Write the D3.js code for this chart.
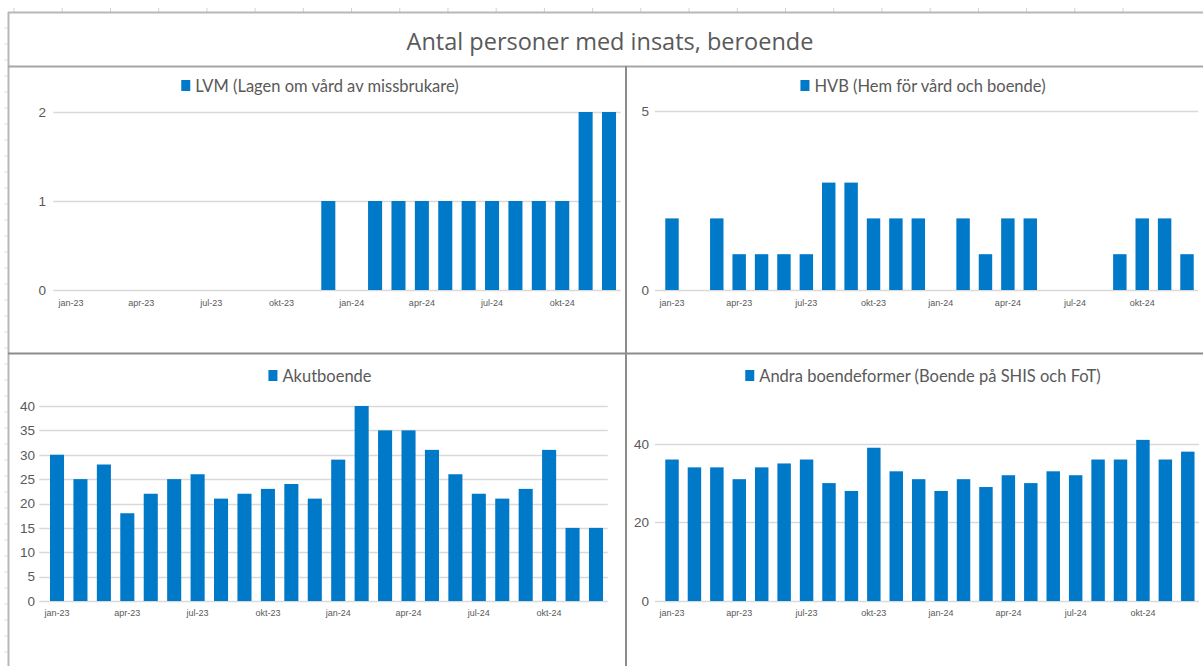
<!DOCTYPE html>
<html>
<head>
<meta charset="utf-8">
<script src="https://cdn.jsdelivr.net/npm/d3@7"></script>
<style>
  html, body { margin: 0; padding: 0; background: #ffffff; }
  svg { display: block; }
</style>
</head>
<body>
<svg id="chart" width="1203" height="666"></svg>
<script>
// Months shown along every x axis
const months = ["jan-23","feb-23","mar-23","apr-23","maj-23","jun-23","jul-23","aug-23","sep-23","okt-23","nov-23","dec-23",
                "jan-24","feb-24","mar-24","apr-24","maj-24","jun-24","jul-24","aug-24","sep-24","okt-24","nov-24","dec-24"];
const shownMonthLabels = ["jan-23","apr-23","jul-23","okt-23","jan-24","apr-24","jul-24","okt-24"];

// Number of persons per month and type of intervention
const lvmValues   = [0,0,0,0,0,0,0,0,0,0,0,1, 0,1,1,1,1,1,1,1,1,1,2,2];
const hvbValues   = [2,0,2,1,1,1,1,3,3,2,2,2, 0,2,1,2,2,0,0,0,1,2,2,1];
const akutValues  = [30,25,28,18,22,25,26,21,22,23,24,21, 29,40,35,35,31,26,22,21,23,31,15,15];
const andraValues = [36,34,34,31,34,35,36,30,28,39,33,31, 28,31,29,32,30,33,32,36,36,41,36,38];

// Y axis ticks per panel
const lvmTicks   = [0, 1, 2];
const hvbTicks   = [0, 5];
const akutTicks  = [0, 5, 10, 15, 20, 25, 30, 35, 40];
const andraTicks = [0, 20, 40];

const mainTitle = "Antal personer med insats, beroende";
const lvmTitle   = "LVM (Lagen om vård av missbrukare)";
const hvbTitle   = "HVB (Hem för vård och boende)";
const akutTitle  = "Akutboende";
const andraTitle = "Andra boendeformer (Boende på SHIS och FoT)";

const barColor = "#0079c9";
const textColor = "#595959";
const gridColor = "#d9d9d9";

const svg = d3.select("#chart");

// Sheet column / row ticks around the chart frame
const colTicks = d3.range(24).map(i => 14 + i * 48.22);
svg.append("g").selectAll("line").data(colTicks).join("line")
  .attr("x1", d => d).attr("x2", d => d).attr("y1", 8).attr("y2", 12)
  .attr("stroke", "#d0d0d0").attr("stroke-width", 1);
const rowTicks = d3.range(40).map(i => 28 + i * 16);
svg.append("g").selectAll("line").data(rowTicks).join("line")
  .attr("x1", 4).attr("x2", 8).attr("y1", d => d).attr("y2", d => d)
  .attr("stroke", "#e2e2e2").attr("stroke-width", 1);

// Frame
svg.append("line").attr("x1", 8).attr("x2", 1203).attr("y1", 12.5).attr("y2", 12.5)
  .attr("stroke", "#b8b8b8").attr("stroke-width", 2);
svg.append("line").attr("x1", 8.5).attr("x2", 8.5).attr("y1", 12).attr("y2", 666)
  .attr("stroke", "#b8b8b8").attr("stroke-width", 2);
svg.append("line").attr("x1", 8).attr("x2", 1203).attr("y1", 66.5).attr("y2", 66.5)
  .attr("stroke", "#a6a6a6").attr("stroke-width", 2);
svg.append("line").attr("x1", 8).attr("x2", 1203).attr("y1", 353.5).attr("y2", 353.5)
  .attr("stroke", "#8c8c8c").attr("stroke-width", 2);
svg.append("line").attr("x1", 626).attr("x2", 626).attr("y1", 66).attr("y2", 666)
  .attr("stroke", "#8c8c8c").attr("stroke-width", 2);

// Main title
svg.append("text")
  .attr("x", 610).attr("y", 50)
  .attr("text-anchor", "middle")
  .attr("font-family", "'Open Sans', sans-serif")
  .attr("font-size", 23.5)
  .attr("fill", textColor)
  .text(mainTitle);

const panels = [
  { title: lvmTitle,   values: lvmValues,   ticks: lvmTicks,   yMax: 2,  xRange: [59.3, 620.7], yRange: [290, 112],  legendCx: 320, legendY: 92,  labelX: 46,  xLabelY: 310 },
  { title: hvbTitle,   values: hvbValues,   ticks: hvbTicks,   yMax: 5,  xRange: [660.8, 1198.2], yRange: [290, 111], legendCx: 923, legendY: 92,  labelX: 649, xLabelY: 310 },
  { title: akutTitle,  values: akutValues,  ticks: akutTicks,  yMax: 40, xRange: [45.3, 607.7], yRange: [601, 406],  legendCx: 320, legendY: 382, labelX: 35,  xLabelY: 620 },
  { title: andraTitle, values: andraValues, ticks: andraTicks, yMax: 50, xRange: [660.8, 1199], yRange: [601, 404.5], legendCx: 923, legendY: 382, labelX: 649, xLabelY: 620 }
];

panels.forEach(p => {
  const g = svg.append("g");
  const x = d3.scaleBand().domain(months).range(p.xRange).paddingInner(0.4).paddingOuter(0.2);
  const y = d3.scaleLinear().domain([0, p.yMax]).range(p.yRange);

  // Gridlines
  g.append("g").selectAll("line").data(p.ticks).join("line")
    .attr("x1", p.xRange[0] - 6).attr("x2", p.xRange[1])
    .attr("y1", d => Math.round(y(d)) + 0.5).attr("y2", d => Math.round(y(d)) + 0.5)
    .attr("stroke", gridColor).attr("stroke-width", 1.5);

  // Y axis tick labels
  const yAxis = d3.axisLeft(y).tickValues(p.ticks).tickFormat(d3.format("d")).tickSize(0).tickPadding(0);
  const ya = g.append("g").attr("transform", `translate(${p.labelX},0)`).call(yAxis);
  ya.select(".domain").remove();
  ya.selectAll("text")
    .attr("font-family", "'Liberation Sans Narrow', 'Liberation Sans', sans-serif")
    .attr("font-size", 13.5).attr("fill", textColor);

  // X axis labels (every third month)
  const xAxis = d3.axisBottom(x).tickValues(shownMonthLabels).tickSize(0).tickPadding(0);
  const xa = g.append("g").attr("transform", `translate(0,${p.xLabelY - 10})`).call(xAxis);
  xa.select(".domain").remove();
  xa.selectAll("text")
    .attr("font-family", "'Liberation Sans Narrow', 'Liberation Sans', sans-serif")
    .attr("font-size", 9).attr("fill", textColor);

  // Bars
  g.append("g").selectAll("rect")
    .data(months.map((m, i) => ({ m, v: p.values[i] })).filter(d => d.v > 0))
    .join("rect")
    .attr("x", d => x(d.m))
    .attr("width", x.bandwidth())
    .attr("y", d => y(d.v))
    .attr("height", d => y(0) - y(d.v))
    .attr("fill", barColor);

  // Legend entry above the plot
  const lg = g.append("g");
  const lt = lg.append("text")
    .attr("x", 14).attr("y", p.legendY)
    .attr("font-family", "Lato, sans-serif")
    .attr("font-size", 16.5).attr("fill", textColor)
    .text(p.title);
  lg.append("rect").attr("x", 0).attr("y", p.legendY - 12).attr("width", 9).attr("height", 11).attr("fill", barColor);
  const w = 14 + lt.node().getComputedTextLength();
  lg.attr("transform", `translate(${p.legendCx - w / 2},0)`);
});
</script>
</body>
</html>
